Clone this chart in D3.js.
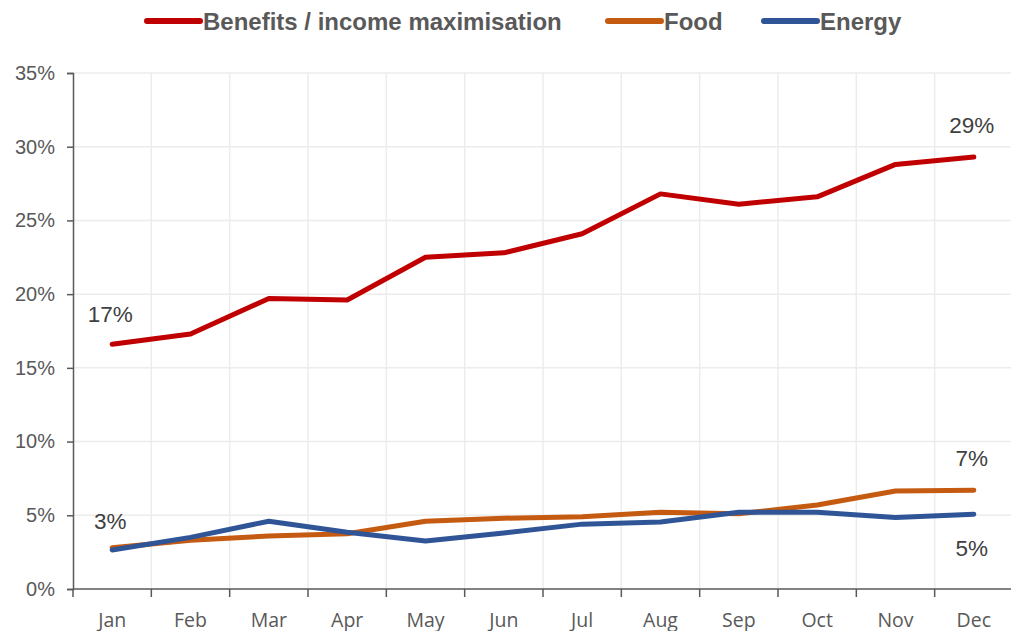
<!DOCTYPE html>
<html>
<head>
<meta charset="utf-8">
<script src="https://cdn.jsdelivr.net/npm/d3@7"></script>
<style>
  body { margin: 0; background: #fff; }
</style>
</head>
<body>
<div id="chart"></div>
<script>
var months = ["Jan", "Feb", "Mar", "Apr", "May", "Jun", "Jul", "Aug", "Sep", "Oct", "Nov", "Dec"];
var benefits = [16.6, 17.3, 19.7, 19.6, 22.5, 22.8, 24.1, 26.8, 26.1, 26.6, 28.8, 29.3];
var food = [2.8, 3.3, 3.6, 3.75, 4.6, 4.8, 4.9, 5.2, 5.1, 5.7, 6.65, 6.7];
var energy = [2.65, 3.5, 4.6, 3.85, 3.25, 3.8, 4.4, 4.55, 5.2, 5.2, 4.85, 5.07];
var yTicks = [0, 5, 10, 15, 20, 25, 30, 35];

var series = [
    { name: "Benefits / income maximisation", values: benefits, color: "#C00000" },
    { name: "Food", values: food, color: "#C55A11" },
    { name: "Energy", values: energy, color: "#2F5597" }
];

var width = 1011, height = 631;
var margin = { top: 73, right: -2, bottom: 42, left: 73 };

var svg = d3.select("#chart")
    .append("svg")
    .attr("width", width)
    .attr("height", height);

var x = d3.scaleBand()
    .domain(months)
    .range([margin.left, width - margin.right]);

var y = d3.scaleLinear()
    .domain([0, 35])
    .range([height - margin.bottom, margin.top]);

// gridlines
svg.append("g")
    .selectAll("line")
    .data(yTicks.slice(1))
    .enter()
    .append("line")
    .attr("x1", margin.left)
    .attr("x2", width - margin.right)
    .attr("y1", function (d) { return y(d); })
    .attr("y2", function (d) { return y(d); })
    .style("stroke", "#ececec")
    .style("stroke-width", 1.5);

svg.append("g")
    .selectAll("line")
    .data(months.slice(1))
    .enter()
    .append("line")
    .attr("x1", function (d) { return x(d); })
    .attr("x2", function (d) { return x(d); })
    .attr("y1", margin.top)
    .attr("y2", y(0))
    .style("stroke", "#ececec")
    .style("stroke-width", 1.5);

// y axis
var yAxis = svg.append("g")
    .attr("transform", "translate(" + margin.left + ",0)")
    .call(d3.axisLeft(y).tickValues(yTicks).tickSize(6).tickFormat(function (d) { return d + "%"; }));
yAxis.selectAll("text")
    .style("font-family", "Liberation Sans, Arial, sans-serif")
    .style("font-size", "20px")
    .style("fill", "#595959")
    .attr("x", -18);

// x axis (ticks on band edges)
var xAxis = svg.append("g")
    .attr("transform", "translate(0," + y(0) + ")");
xAxis.append("line")
    .attr("x1", margin.left)
    .attr("x2", width - margin.right)
    .style("stroke", "#595959")
    .style("stroke-width", 1.5);
xAxis.selectAll(".tk")
    .data(months)
    .enter()
    .append("line")
    .attr("class", "tk")
    .attr("x1", function (d) { return x(d); })
    .attr("x2", function (d) { return x(d); })
    .attr("y1", 0)
    .attr("y2", 8)
    .style("stroke", "#595959")
    .style("stroke-width", 1.5);
xAxis.selectAll(".lb")
    .data(months)
    .enter()
    .append("text")
    .attr("class", "lb")
    .attr("x", function (d) { return x(d) + x.bandwidth() / 2; })
    .attr("y", 38)
    .attr("text-anchor", "middle")
    .style("font-family", "Open Sans, sans-serif")
    .style("font-size", "19.5px")
    .style("fill", "#595959")
    .text(function (d) { return d; });

yAxis.select(".domain").style("stroke", "#595959").style("stroke-width", 1.5);
yAxis.selectAll(".tick line").style("stroke", "#595959").style("stroke-width", 1.5);

// lines
var line = d3.line()
    .x(function (d, i) { return x(months[i]) + x.bandwidth() / 2; })
    .y(function (d) { return y(d); });

svg.selectAll(".series")
    .data(series)
    .enter()
    .append("path")
    .attr("class", "series")
    .attr("d", function (d) { return line(d.values); })
    .style("fill", "none")
    .style("stroke", function (d) { return d.color; })
    .style("stroke-width", 5)
    .style("stroke-linecap", "round")
    .style("stroke-linejoin", "round");

// annotations
var notes = [
    { m: "Jan", v: benefits[0], text: "17%", dy: -22 },
    { m: "Dec", v: benefits[11], text: "29%", dy: -24 },
    { m: "Jan", v: energy[0], text: "3%", dy: -21 },
    { m: "Dec", v: food[11], text: "7%", dy: -24 },
    { m: "Dec", v: energy[11], text: "5%", dy: 42 }
];
svg.selectAll(".note")
    .data(notes)
    .enter()
    .append("text")
    .attr("class", "note")
    .attr("x", function (d) { return x(d.m) + x.bandwidth() / 2 - 2; })
    .attr("y", function (d) { return y(d.v) + d.dy; })
    .attr("text-anchor", "middle")
    .style("font-family", "Liberation Sans, Arial, sans-serif")
    .style("font-size", "22.5px")
    .style("fill", "#404040")
    .text(function (d) { return d.text; });

// legend
var legendX = [145, 606, 762];
var legend = svg.selectAll(".legend")
    .data(series)
    .enter()
    .append("g")
    .attr("class", "legend")
    .attr("transform", function (d, i) { return "translate(" + legendX[i] + ",21)"; });
legend.append("line")
    .attr("x1", 2)
    .attr("x2", 55)
    .style("stroke", function (d) { return d.color; })
    .style("stroke-width", 6)
    .style("stroke-linecap", "round");
legend.append("text")
    .attr("x", 58)
    .attr("y", 8.5)
    .style("font-family", "Liberation Sans Narrow, Arial Narrow, sans-serif")
    .style("font-weight", "bold")
    .style("font-size", "24px")
    .style("fill", "#595959")
    .text(function (d) { return d.name; });
</script>
</body>
</html>
